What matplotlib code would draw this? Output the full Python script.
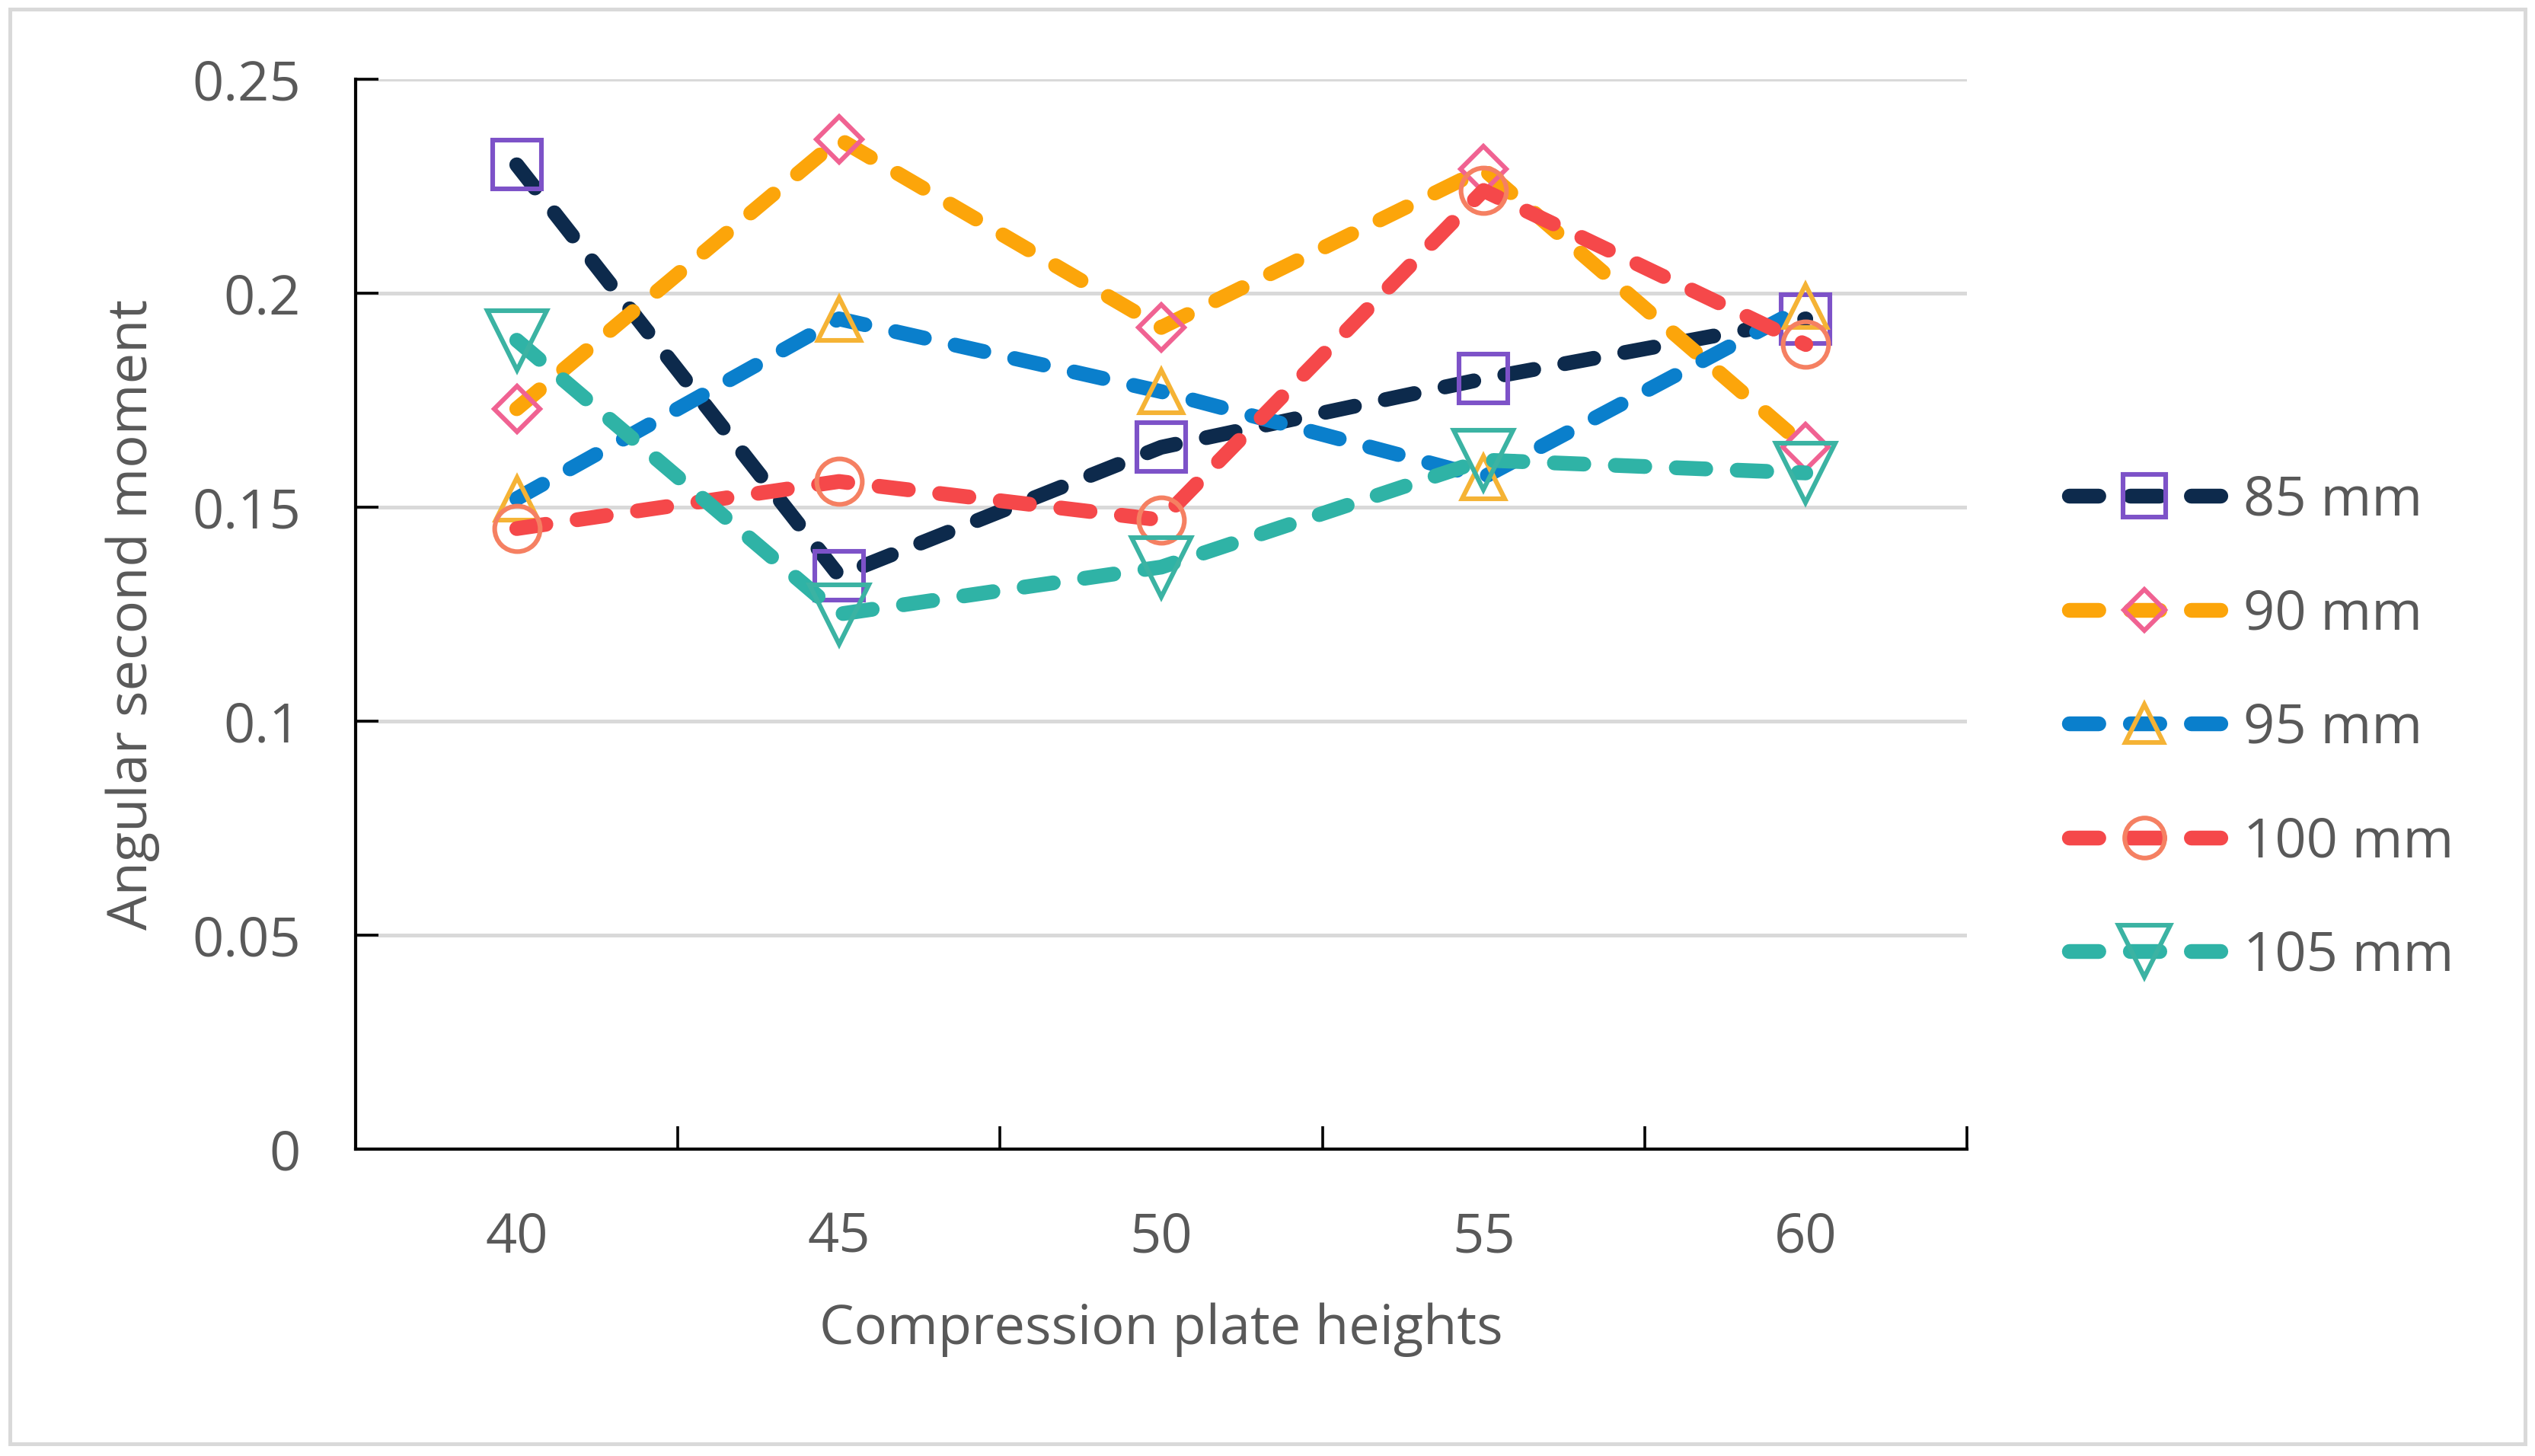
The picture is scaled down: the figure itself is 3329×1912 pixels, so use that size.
"""Angular second moment vs compression plate height"""
import numpy as np
import matplotlib.pyplot as plt
from matplotlib.patches import Rectangle
from matplotlib.ticker import FixedLocator, FuncFormatter

plt.rcParams['font.family'] = ['Open Sans', 'DejaVu Sans']

heights = ['40', '45', '50', '55', '60']
series_names = ['85 mm', '90 mm', '95 mm', '100 mm', '105 mm']
asm_85 = [0.230, 0.134, 0.164, 0.180, 0.194]
asm_90 = [0.173, 0.236, 0.192, 0.229, 0.164]
asm_95 = [0.152, 0.194, 0.177, 0.157, 0.197]
asm_100 = [0.145, 0.156, 0.147, 0.224, 0.188]
asm_105 = [0.189, 0.125, 0.136, 0.161, 0.158]
y_ticks = [0, 0.05, 0.1, 0.15, 0.2, 0.25]

# styles per series
line_colors = ['#0d2a4c', '#fca50a', '#0a7fcc', '#f5484a', '#2fb3a6']
edge_colors = ['#7d52c8', '#f06292', '#f5b335', '#f58062', '#3bb3a3']
markers = ['s', 'D', '^', 'o', 'v']
msizes = [23, 15.5, 20.5, 21.5, 28]

W, H = 3330, 1912
DPI = 200
fig = plt.figure(figsize=(W / DPI, H / DPI), dpi=DPI)
ax = fig.add_axes([467 / W, 1 - 1509 / H, (2583 - 467) / W, (1509 - 104) / H])

text_c = '#595959'
fs = 26
x = np.arange(len(heights))
all_series = [asm_85, asm_90, asm_95, asm_100, asm_105]
lw = 7
for vals, name, lc, ec, m, ms in zip(all_series, series_names, line_colors,
                                     edge_colors, markers, msizes):
    ax.plot(x, vals, color=lc, lw=lw, linestyle=(0, (1.99, 2.13)),
            dash_capstyle='round', marker=m, markersize=ms,
            markerfacecolor='none', markeredgecolor=ec, markeredgewidth=2.2,
            label=name)

ax.set_xlim(-0.5, len(heights) - 0.5)
ax.set_ylim(0, 0.25)
ax.set_yticks(y_ticks)
ax.yaxis.set_major_formatter(FuncFormatter(lambda v, p: '%g' % v))
ax.set_xticks(x)
ax.set_xticklabels(heights)
ax.xaxis.set_minor_locator(FixedLocator(np.arange(-0.5, len(heights), 1.0)))

for s in ['top', 'right']:
    ax.spines[s].set_visible(False)
for s in ['left', 'bottom']:
    ax.spines[s].set_linewidth(1.5)
    ax.spines[s].set_color('black')

ax.yaxis.grid(True, color='#d9d9d9', lw=1.8)
ax.set_axisbelow(True)

ax.tick_params(axis='y', direction='in', length=10.8, width=1.3,
               labelsize=fs, labelcolor=text_c, pad=26)
ax.tick_params(axis='x', which='major', length=0, labelsize=fs,
               labelcolor=text_c, pad=29)
ax.tick_params(axis='x', which='minor', direction='in', length=10.8, width=1.3)

ax.set_ylabel('Angular second moment', fontsize=fs, color=text_c)
ax.yaxis.set_label_coords((174 - 467) / (2583 - 467), 0.5)
ax.yaxis.label.set_va('center')
ax.set_xlabel('Compression plate heights', fontsize=fs, color=text_c)
ax.xaxis.set_label_coords(0.5, (1509 - 1746) / (1509 - 104))
ax.xaxis.label.set_va('center')

fig.legend(loc='center left', bbox_to_anchor=(2717 / W, 1 - 957 / H),
           frameon=False, fontsize=fs, labelcolor=text_c, handlelength=2.75,
           handletextpad=0.42, labelspacing=1.08, borderpad=0, borderaxespad=0,
           numpoints=1, markerscale=0.88)

fig.add_artist(Rectangle((13 / W, 1 - 1896 / H), (3316 - 13) / W, (1896 - 12) / H,
                         transform=fig.transFigure, fill=False,
                         ec='#d9d9d9', lw=1.8))

fig.savefig('out.png', dpi=DPI)
